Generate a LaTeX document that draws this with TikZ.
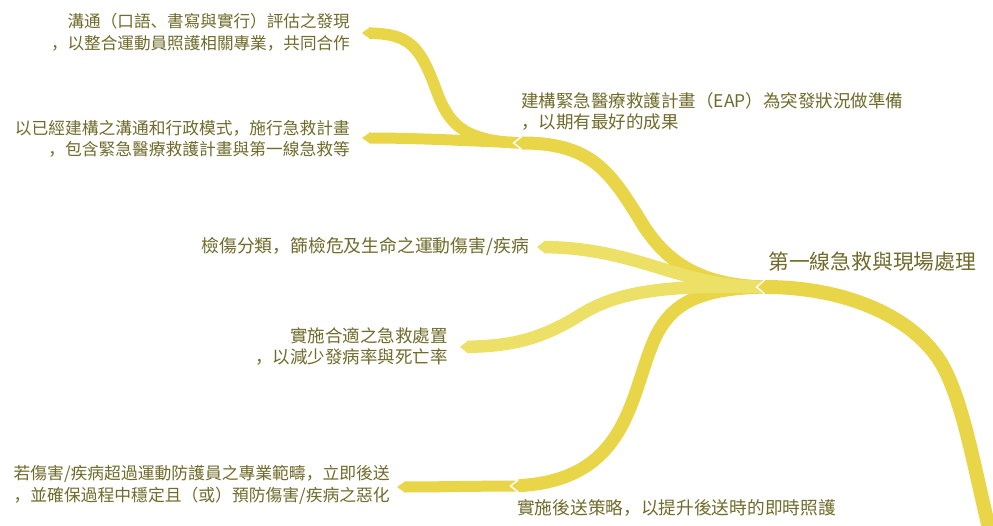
\documentclass[tikz,border=0pt]{standalone}
\usepackage{fontspec}
\setmainfont{Noto Sans CJK SC}
\definecolor{rib}{HTML}{E8D548}
\definecolor{ribl}{HTML}{EDE066}
\definecolor{txt}{HTML}{706B2B}
\newcommand\ribtip[3]{\fill[#3] (#1) -- ++(8,-#2) -- ++(0,#2) -- ++(0,#2) -- cycle;}
\newcommand\ribgap[1]{\draw[white,line width=2.2pt] ([xshift=-0.8pt]#1) ++(11,-9) -- ++(-11,9) -- ++(11,9);}
\tikzset{
  ribbon/.style={draw=#1, line cap=butt, shorten >=7pt},
  ribbon/.default=rib,
  lbl/.style={text=txt, inner sep=0pt, font=\fontsize{17.5pt}{21.5pt}\selectfont},
}
\begin{document}
\begin{tikzpicture}[x=1pt,y=-1pt]
\fill[white] (0,0) rectangle (993,526);
\useasboundingbox (0,0) rectangle (993,526);

% coordinates
\coordinate (tipRoot) at (758,287);
\coordinate (hubEnd) at (768,287);
\coordinate (rootStart) at (990,532);
\coordinate (rootMid) at (945,370);
\coordinate (tipE) at (515,143);
\coordinate (eapEnd) at (524,143);
\coordinate (eapMid) at (645,228);
\coordinate (tipS) at (512,486);
\coordinate (sEnd) at (521,486);
\coordinate (sMid) at (652,345);
\coordinate (tipT1) at (362,33);
\coordinate (t1Mid) at (438,95);
\coordinate (tipT2) at (362,138);
\coordinate (tipTri) at (537,247);
\coordinate (tipCare) at (460,347);
\coordinate (careMid) at (580,315);
\coordinate (tipRef) at (397,487);

% sub-branches
\draw[ribbon, line width=11.5pt] (eapEnd) .. controls +(-59,-1) and +(12,30) .. (t1Mid)
   .. controls +(-18,-50) and +(48,1) .. (tipT1);
\ribtip{tipT1}{5.75}{rib}
\draw[ribbon, line width=11pt] (eapEnd) .. controls +(-54,-2) and +(58,0) .. (tipT2);
\ribtip{tipT2}{5.5}{rib}
\draw[ribbon, line width=11pt] (sEnd) .. controls +(-40,0) and +(40,0) .. (tipRef);
\ribtip{tipRef}{5.5}{rib}
\ribgap{tipE}
\ribgap{tipS}

% hub branches
\draw[ribbon, line width=13pt] (hubEnd) .. controls +(-68,-1) and +(23,34) .. (eapMid)
   .. controls +(-33,-53) and +(80,0) .. (tipE);
\ribtip{tipE}{6.5}{rib}
\draw[ribbon, line width=13pt] (hubEnd) .. controls +(-73,1) and +(16,-40) .. (sMid)
   .. controls +(-22,55) and +(113,-6) .. (tipS);
\ribtip{tipS}{6.5}{rib}
\draw[ribbon=ribl, line width=12.5pt] (hubEnd) .. controls +(-88,1) and +(103,1) .. (tipTri);
\ribtip{tipTri}{6.25}{ribl}
\draw[ribbon=ribl, line width=12.5pt] (hubEnd) .. controls +(-98,-2) and +(40,-25) .. (careMid)
   .. controls +(-40,25) and +(50,-1) .. (tipCare);
\ribtip{tipCare}{6.25}{ribl}
\ribgap{tipRoot}

% root branch
\draw[ribbon, line width=14pt] (rootStart) .. controls +(-15,-60) and +(20,40) .. (rootMid)
   .. controls +(-25,-50) and +(92,0) .. (tipRoot);
\ribtip{tipRoot}{7}{rib}

% labels
\node[lbl, font=\fontsize{20.8pt}{24pt}\selectfont, anchor=west] (title) at (768,262) {第一線急救與現場處理};
\node[lbl, font=\fontsize{16.6pt}{21.5pt}\selectfont, anchor=east, align=right] (t1) at (350,32.5)
  {溝通（口語、書寫與實行）評估之發現\\，以整合運動員照護相關專業，共同合作};
\node[lbl, font=\fontsize{16.75pt}{21.5pt}\selectfont, anchor=east, align=right] (t2) at (350,139)
  {以已經建構之溝通和行政模式，施行急救計畫\\，包含緊急醫療救護計畫與第一線急救等};
\node[lbl, anchor=west, align=left] (eap) at (521,111.5)
  {建構緊急醫療救護計畫（EAP）為突發狀況做準備\\，以期有最好的成果};
\node[lbl, font=\fontsize{17.8pt}{21.5pt}\selectfont, anchor=east] (triage) at (529,247)
  {檢傷分類，篩檢危及生命之運動傷害/疾病};
\node[lbl, anchor=east, align=right] (care) at (448,346.5)
  {實施合適之急救處置\\，以減少發病率與死亡率};
\node[lbl, font=\fontsize{16.8pt}{21.5pt}\selectfont, anchor=east, align=right] (refer) at (390,485)
  {若傷害/疾病超過運動防護員之專業範疇，立即後送\\，並確保過程中穩定且（或）預防傷害/疾病之惡化};
\node[lbl, font=\fontsize{17.7pt}{21.5pt}\selectfont, anchor=west] (transport) at (517,508)
  {實施後送策略，以提升後送時的即時照護};
\end{tikzpicture}
\end{document}
